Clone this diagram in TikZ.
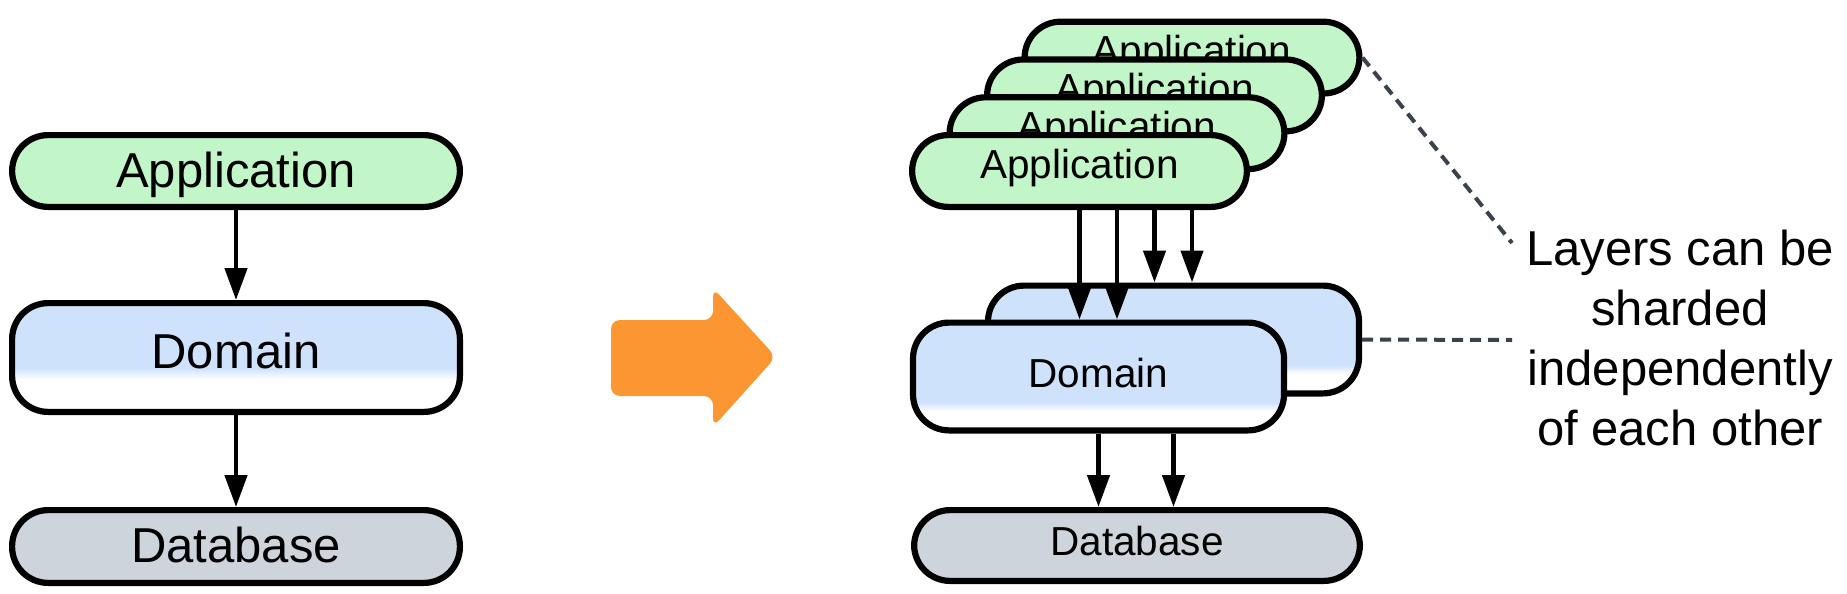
\documentclass[tikz,border=0pt]{standalone}
\usepackage{fontspec}
\setmainfont{Liberation Sans}
\usetikzlibrary{arrows.meta}
\definecolor{appgreen}{RGB}{194,245,199}
\definecolor{domblue}{RGB}{207,226,252}
\definecolor{dbgray}{RGB}{205,212,220}
\definecolor{arrorange}{RGB}{251,150,51}
\definecolor{dashgray}{RGB}{60,66,76}
\pgfdeclareverticalshading{domleft}{100bp}{color(0bp)=(white); color(40bp)=(white); color(45bp)=(domblue); color(100bp)=(domblue)}
\pgfdeclareverticalshading{domright}{100bp}{color(0bp)=(white); color(34bp)=(white); color(38bp)=(domblue); color(100bp)=(domblue)}
\begin{document}
\begin{tikzpicture}[x=1pt, y=-1pt,
  box/.style={draw, line width=6.2pt, rounded corners=36pt, inner sep=0pt, align=center},
  bigtxt/.style={font=\fontsize{49}{60}\selectfont, text height=35pt},
  smalltxt/.style={font=\fontsize{40.5}{48}\selectfont, text height=29pt},
  appbox/.style={box, fill=appgreen},
  dbbox/.style={box, fill=dbgray},
  domLbox/.style={box, shade, shading=domleft},
  domRbox/.style={box, shade, shading=domright},
  flow/.style={-{Triangle[length=32pt,width=22pt]}, line width=4.6pt},
  notelink/.style={dashgray, line width=4pt, dash pattern=on 11pt off 7pt}
]
\useasboundingbox (0,0) rectangle (1847,594);

% ---- left stack ----
\node[appbox, bigtxt, text depth=3pt, minimum width=447.8pt, minimum height=71.8pt] (lapp) at (236,171) {Application};
\node[domLbox, bigtxt, text depth=14pt, minimum width=447.8pt, minimum height=108.8pt] (ldom) at (236,357.5) {Domain};
\node[dbbox, bigtxt, text depth=3pt, minimum width=447.8pt, minimum height=72.8pt] (ldb) at (236,546.5) {Database};
\draw[flow] (lapp.south) -- (ldom.north);
\draw[flow] (ldom.south) -- (ldb.north);

% ---- big orange arrow ----
\fill[arrorange, rounded corners=9pt] (611,320) -- (713,320) -- (713,288) -- (776,357) -- (713,427) -- (713,396) -- (611,396) -- cycle;

% ---- right stack ----
\node[appbox, smalltxt, text depth=15pt, minimum width=334.8pt, minimum height=71.8pt] (app4) at (1192,57.6) {Application};
\node[appbox, smalltxt, text depth=15pt, minimum width=334.8pt, minimum height=71.8pt] (app3) at (1154.5,95.4) {Application};
\node[appbox, smalltxt, text depth=15pt, minimum width=334.8pt, minimum height=71.8pt] (app2) at (1117,133.2) {Application};
\node[appbox, smalltxt, text depth=15pt, minimum width=334.8pt, minimum height=71.8pt] (app1) at (1079.5,171) {Application};

\node[domRbox, smalltxt, text depth=8pt, minimum width=371pt, minimum height=107.8pt] (dom2) at (1173.5,339.5) {};
\node[domRbox, smalltxt, text depth=8pt, minimum width=371pt, minimum height=107.8pt] (dom1) at (1098.5,376.5) {Domain};
\node[dbbox, smalltxt, text depth=9pt, minimum width=445.8pt, minimum height=70.8pt] (db) at (1137,545.5) {Database};

\draw[flow] (app1.south) -- (app1.south |- dom1.north);
\draw[flow] (app2.center |- app1.south) -- (app2.center |- dom1.north);
\draw[flow] (app3.center |- app1.south) -- (app3.center |- dom2.north);
\draw[flow] (app4.center |- app1.south) -- (app4.center |- dom2.north);
\draw[flow] (dom1.south) -- (dom1.south |- db.north);
\draw[flow] (dom2.center |- dom1.south) -- (dom2.center |- db.north);

% ---- note ----
\node[font=\fontsize{49}{60}\selectfont, align=center, inner sep=0pt, anchor=north] (note) at (1680,230) {Layers can be\\sharded\\independently\\of each other};
\coordinate (n1) at (1512,243);
\coordinate (n2) at (1512,340);
\draw[notelink] (app4.east) -- (n1);
\draw[notelink] (dom2.east) -- (n2);
\end{tikzpicture}
\end{document}
